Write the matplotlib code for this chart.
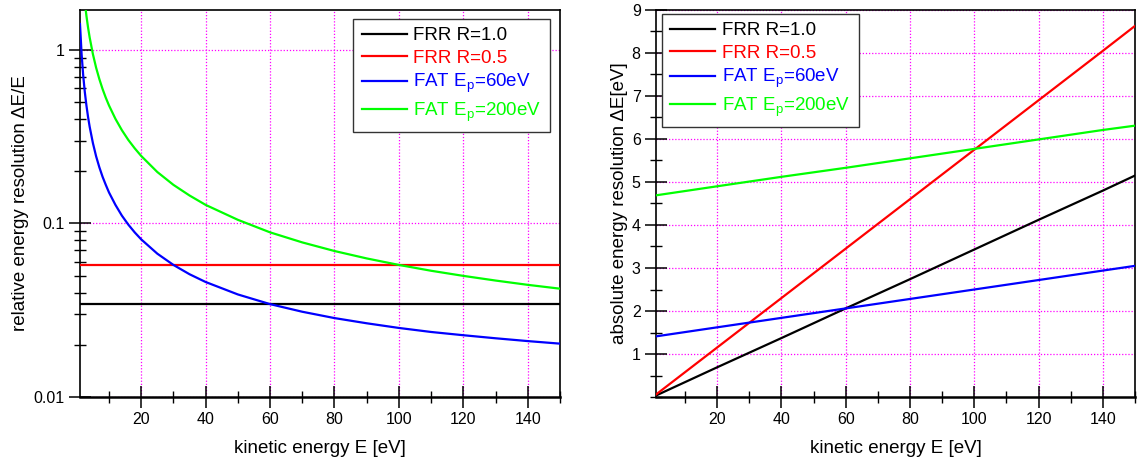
import matplotlib
matplotlib.use("Agg")
import matplotlib.pyplot as plt
from matplotlib.ticker import MultipleLocator, LogLocator, FixedLocator, NullFormatter, FuncFormatter

plt.rcParams['font.family'] = ['Liberation Sans', 'DejaVu Sans']
plt.rcParams['mathtext.fontset'] = 'custom'
plt.rcParams['mathtext.rm'] = 'Liberation Sans'
plt.rcParams['mathtext.it'] = 'Liberation Sans'

# ---- data ----
labels = ['FRR R=1.0', 'FRR R=0.5', r'FAT E$_\mathrm{p}$=60eV', r'FAT E$_\mathrm{p}$=200eV']
colors = ['#000000', '#ff0000', '#0000ff', '#00ff00']

# left panel: relative resolution dE/E vs kinetic energy
E_rel = [1, 1.5, 2, 2.5, 3, 3.5, 4, 5, 6, 7, 8, 9, 10, 12, 14, 16, 18, 20, 25, 30, 35,
         40, 50, 60, 70, 80, 90, 100, 110, 120, 130, 140, 150]
rel_frr10 = [0.0343] * len(E_rel)
rel_frr05 = [0.0575] * len(E_rel)
rel_fat60 = [1.411, 0.944, 0.711, 0.571, 0.478, 0.411, 0.361, 0.291, 0.244, 0.211, 0.186,
             0.167, 0.151, 0.128, 0.111, 0.0985, 0.0888, 0.081, 0.067, 0.0577, 0.051,
             0.046, 0.039, 0.0343, 0.031, 0.0285, 0.0266, 0.025, 0.0237, 0.0227, 0.0218,
             0.021, 0.0203]
rel_fat200 = [4.69, 3.13, 2.35, 1.88, 1.571, 1.348, 1.181, 0.947, 0.791, 0.680, 0.596,
              0.531, 0.479, 0.401, 0.345, 0.303, 0.271, 0.245, 0.198, 0.167, 0.145,
              0.128, 0.105, 0.0889, 0.0778, 0.0694, 0.0629, 0.0577, 0.0534, 0.0499,
              0.0469, 0.0443, 0.0421]

# right panel: absolute resolution dE [eV] vs kinetic energy
E_abs = [1, 20, 40, 60, 80, 100, 120, 140, 150]
abs_frr10 = [0.034, 0.69, 1.37, 2.06, 2.74, 3.43, 4.12, 4.80, 5.15]
abs_frr05 = [0.058, 1.15, 2.30, 3.45, 4.60, 5.75, 6.90, 8.05, 8.63]
abs_fat60 = [1.41, 1.62, 1.84, 2.06, 2.28, 2.50, 2.72, 2.94, 3.05]
abs_fat200 = [4.69, 4.90, 5.12, 5.33, 5.55, 5.77, 5.99, 6.21, 6.31]

xticks = [20, 40, 60, 80, 100, 120, 140]

fig = plt.figure(figsize=(11.4, 4.61), dpi=100)
ax1 = fig.add_axes([80/1140, 1-397/461, 480/1140, 387/461])
ax2 = fig.add_axes([656/1140, 1-397/461, 479/1140, 387/461])

grid_kw = dict(color='#ff00ff', linestyle=(0, (1, 1.5)), linewidth=0.9)

legend_pos = {id(ax1): ('upper right', (0.979, 0.977)),
              id(ax2): ('upper left', (0.0125, 0.990))}

for ax, E, series in [(ax1, E_rel, [rel_frr10, rel_frr05, rel_fat60, rel_fat200]),
                      (ax2, E_abs, [abs_frr10, abs_frr05, abs_fat60, abs_fat200])]:
    for ys, c, lab in zip(series, colors, labels):
        ax.plot(E, ys, color=c, lw=1.6, label=lab, zorder=3)
    ax.set_xlim(1, 150)
    ax.xaxis.set_major_locator(FixedLocator(xticks))
    ax.xaxis.set_minor_locator(MultipleLocator(10))
    ax.tick_params(axis='both', which='major', direction='inout', length=16, width=1.1,
                   labelsize=11.5, top=False, right=False)
    ax.tick_params(axis='both', which='minor', direction='inout', length=8, width=1.0,
                   top=False, right=False)
    ax.tick_params(axis='x', which='major', pad=3)
    ax.tick_params(axis='y', which='major', pad=3)
    for s in ax.spines.values():
        s.set_linewidth(1.2)
    ax.spines['bottom'].set_linewidth(1.8)
    ax.grid(True, which='major', **grid_kw)
    ax.set_axisbelow(True)
    ax.set_xlabel('kinetic energy E [eV]', fontsize=13.5, labelpad=9)
    loc, anchor = legend_pos[id(ax)]
    leg = ax.legend(loc=loc, bbox_to_anchor=anchor, fontsize=13.5, frameon=True,
                    fancybox=False, framealpha=1, edgecolor='#333333',
                    handlelength=2.4, handletextpad=0.35,
                    labelspacing=0.28, borderpad=0.45, borderaxespad=0.0)
    leg.get_frame().set_linewidth(1.0)
    leg.set_zorder(10)
    for t, c in zip(leg.get_texts(), colors):
        t.set_color(c)

ax1.set_yscale('log')
ax1.set_ylim(0.01, 1.7)
ax1.yaxis.set_major_locator(FixedLocator([0.01, 0.1, 1]))
ax1.yaxis.set_major_formatter(FuncFormatter(lambda v, p: {0.01: '0.01', 0.1: '0.1', 1: '1'}.get(round(v, 3), '')))
ax1.yaxis.set_minor_locator(LogLocator(base=10, subs=range(2, 10)))
ax1.yaxis.set_minor_formatter(NullFormatter())
ax1.set_ylabel('relative energy resolution \u0394E/E', fontsize=13.5, labelpad=3)

ax2.set_ylim(0, 9)
ax2.yaxis.set_major_locator(FixedLocator([1, 2, 3, 4, 5, 6, 7, 8, 9]))
ax2.yaxis.set_minor_locator(MultipleLocator(0.5))
ax2.set_ylabel('absolute energy resolution \u0394E[eV]', fontsize=13.5, labelpad=3)

fig.savefig('out.png', dpi=100)
